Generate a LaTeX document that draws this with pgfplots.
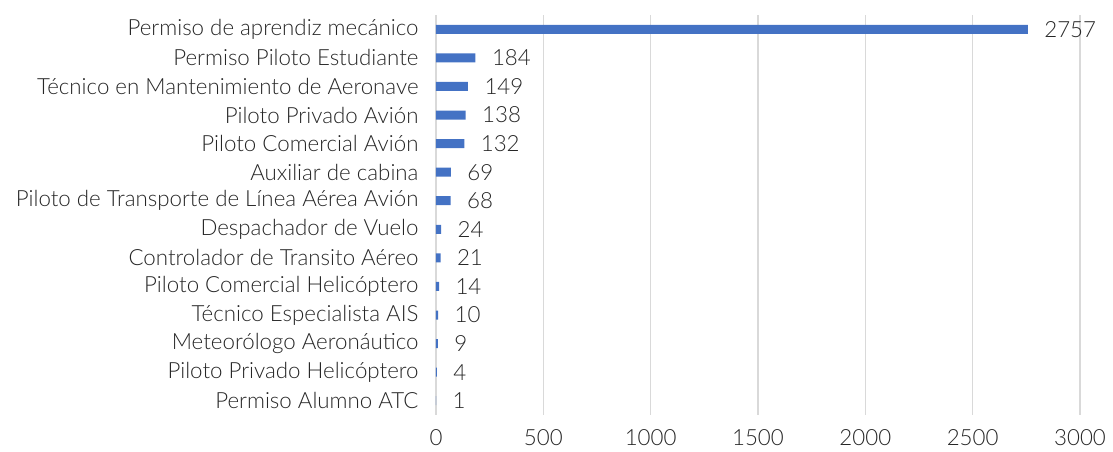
\documentclass[border=0pt]{standalone}
\usepackage{fontspec}
\setmainfont{Lato}[UprightFont={* Light}]
\usepackage{pgfplots}
\pgfplotsset{compat=1.18}
\definecolor{barblue}{HTML}{4472C4}
\definecolor{gridgray}{HTML}{D9D9D9}
\definecolor{txt}{HTML}{262626}
\begin{document}
\begin{tikzpicture}
\begin{axis}[
  at={(0,0)}, anchor=south west,
  scale only axis,
  width=644pt, height=400pt,
  xbar, bar width=9pt,
  xmin=0, xmax=3000,
  ymin=-0.5, ymax=13.5,
  y dir=reverse,
  xtick={0,500,...,3000},
  ytick={0,...,13},
  yticklabels={Permiso de aprendiz mecánico, Permiso Piloto Estudiante, Técnico en Mantenimiento de Aeronave, Piloto Privado Avión, Piloto Comercial Avión, Auxiliar de cabina, Piloto de Transporte de Línea Aérea Avión, Despachador de Vuelo, Controlador de Transito Aéreo, Piloto Comercial Helicóptero, Técnico Especialista AIS, Meteorólogo Aeronáutico, Piloto Privado Helicóptero, Permiso Alumno ATC},
  axis line style={draw=none},
  major tick length=0pt,
  xmajorgrids, grid style={gridgray, line width=1.5pt},
  tick label style={font=\fontsize{22.3}{25}\selectfont, text=txt},
  /pgf/number format/assume math mode=true,
  /pgf/number format/1000 sep={},
  yticklabel style={xshift=-14pt},
  xticklabel style={yshift=-11pt},
  nodes near coords,
  nodes near coords style={anchor=west, xshift=13pt, font=\fontsize{22.3}{25}\selectfont, text=txt, /pgf/number format/1000 sep={}, /pgf/number format/assume math mode=true},
]
\addplot[fill=barblue, draw=none] coordinates {
(2757,0) (184,1) (149,2) (138,3) (132,4) (69,5) (68,6) (24,7) (21,8) (14,9) (10,10) (9,11) (4,12) (1,13)
};
\end{axis}
\path[use as bounding box] (-436pt,-36pt) rectangle (677pt,415pt);
\end{tikzpicture}
\end{document}
